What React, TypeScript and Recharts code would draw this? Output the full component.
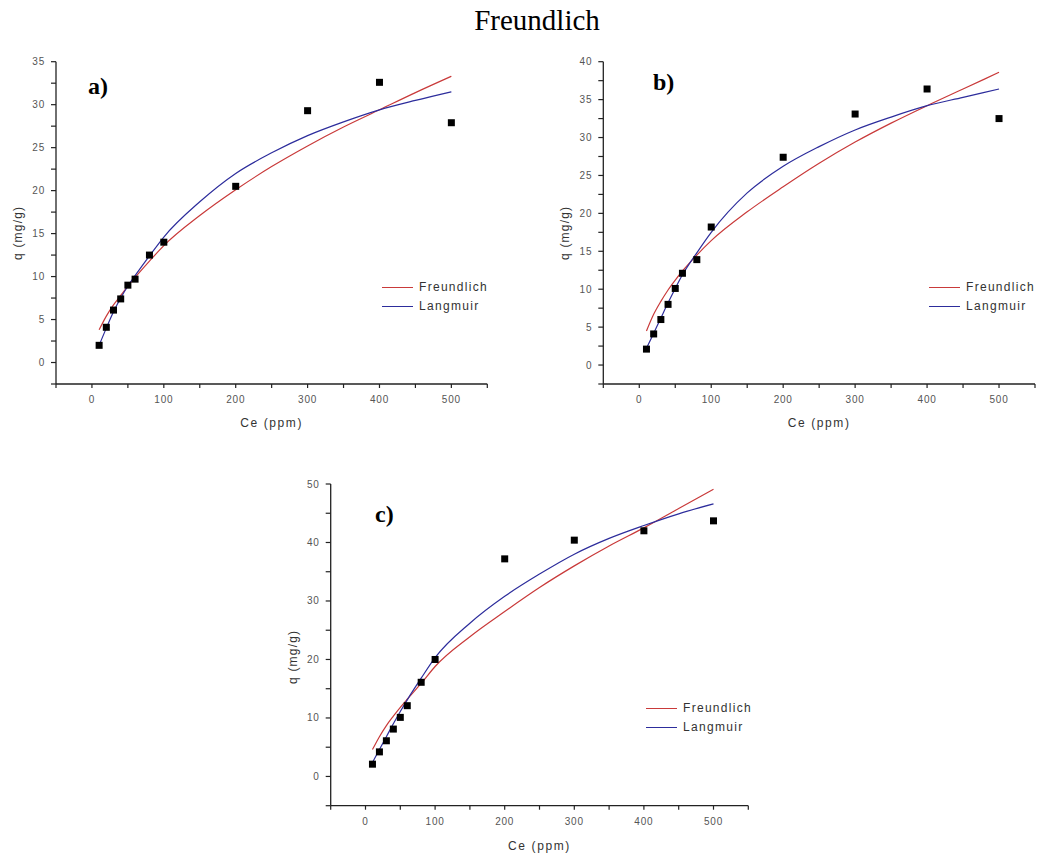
import React from 'react';
import { ComposedChart, Line, Scatter, XAxis, YAxis } from 'recharts';

// measured equilibrium concentrations (ppm)
const CE = [10, 20, 30, 40, 50, 60, 80, 100, 200, 300, 400, 500];
const FIT_CE = [10, 20, 30, 40, 50, 60, 80, 100, 150, 200, 250, 300, 350, 400, 450, 500];

const A_Q = [2.0, 4.1, 6.1, 7.4, 9.0, 9.7, 12.5, 14.0, 20.5, 29.3, 32.6, 27.9];
const A_FREUNDLICH = [3.8, 5.4, 6.7, 7.8, 8.9, 9.9, 11.8, 13.6, 17.1, 20.1, 22.8, 25.2, 27.4, 29.4, 31.4, 33.3];
const A_LANGMUIR = [2.0, 4.0, 5.9, 7.5, 8.9, 10.1, 12.4, 14.6, 18.7, 22.0, 24.4, 26.4, 28.0, 29.4, 30.5, 31.5];

const B_Q = [2.1, 4.1, 6.0, 8.0, 10.1, 12.1, 13.9, 18.2, 27.4, 33.1, 36.4, 32.5];
const B_FREUNDLICH = [4.5, 6.7, 8.4, 9.9, 11.2, 12.4, 14.5, 16.4, 20.2, 23.5, 26.6, 29.4, 31.9, 34.2, 36.4, 38.6];
const B_LANGMUIR = [2.2, 4.2, 6.2, 8.2, 10.1, 11.9, 14.8, 17.5, 22.7, 26.2, 28.8, 31.0, 32.7, 34.2, 35.3, 36.4];

const C_Q = [2.1, 4.2, 6.1, 8.1, 10.1, 12.1, 16.1, 20.0, 37.2, 40.4, 42.0, 43.7];
const C_FREUNDLICH = [4.6, 6.8, 8.7, 10.3, 11.8, 13.2, 15.9, 18.8, 23.9, 28.2, 32.3, 36.0, 39.4, 42.5, 45.8, 49.1];
const C_LANGMUIR = [2.4, 4.6, 6.8, 9.0, 11.1, 13.1, 16.8, 20.3, 26.2, 30.8, 34.6, 38.0, 40.7, 42.9, 44.9, 46.6];

const X_TICKS = [-50, 0, 50, 100, 150, 200, 250, 300, 350, 400, 450, 500, 550];
const A_Y_TICKS = [-2.5, 0, 2.5, 5, 7.5, 10, 12.5, 15, 17.5, 20, 22.5, 25, 27.5, 30, 32.5, 35];
const B_Y_TICKS = [-2.5, 0, 2.5, 5, 7.5, 10, 12.5, 15, 17.5, 20, 22.5, 25, 27.5, 30, 32.5, 35, 37.5, 40];
const C_Y_TICKS = [-5, 0, 5, 10, 15, 20, 25, 30, 35, 40, 45, 50];

const RED = '#c93a3a';
const BLUE = '#2d2d9c';
const SANS = 'Arial, "Liberation Sans", sans-serif';
const SERIF = '"Times New Roman", "Liberation Serif", serif';

const toPoints = (xs: number[], ys: number[]) => xs.map((x, i) => ({ x, q: ys[i] }));

const XTick = (props: any) => {
  const { x, y, payload } = props;
  const v = payload.value;
  if (v < 0 || v > 500 || v % 100 !== 0) return <g />;
  return (
    <text x={x} y={y} dy="0.71em" textAnchor="middle" fill="#555" fontSize={10} fontFamily={SANS} letterSpacing={0.8}>
      {v}
    </text>
  );
};

const YTick = (props: any) => {
  const { x, y, payload, step } = props;
  const v = payload.value;
  if (v < 0 || v % step !== 0) return <g />;
  return (
    <text x={x} y={y} dy="0.35em" textAnchor="end" fill="#555" fontSize={10} fontFamily={SANS} letterSpacing={0.8}>
      {v}
    </text>
  );
};

const XTitle = (props: any) => {
  const { viewBox, shift } = props;
  const cx = viewBox.x + viewBox.width / 2;
  const cy = viewBox.y + shift;
  return (
    <text x={cx} y={cy} dy="0.35em" textAnchor="middle" fill="#333" fontSize={12} fontFamily={SANS} letterSpacing={1.6}>
      Ce (ppm)
    </text>
  );
};

const YTitle = (props: any) => {
  const { viewBox, dx, dy } = props;
  const cx = viewBox.x + dx;
  const cy = viewBox.y + viewBox.height / 2 + dy;
  return (
    <text
      x={cx}
      y={cy}
      dy="0.35em"
      transform={`rotate(-90 ${cx} ${cy})`}
      textAnchor="middle"
      fill="#333"
      fontSize={12}
      fontFamily={SANS}
      letterSpacing={1.2}
    >
      q (mg/g)
    </text>
  );
};

const Square = (props: any) => (
  <rect x={props.cx - 3.5} y={props.cy - 3.5} width={7} height={7} fill="#000" />
);

interface PanelProps {
  tag: string;
  left: number;
  top: number;
  width: number;
  height: number;
  margin: { top: number; right: number; bottom: number; left: number };
  xAxisHeight: number;
  xTitleShift: number;
  yTitleDx: number;
  yTitleDy: number;
  yDomain: [number, number];
  yTicks: number[];
  yStep: number;
  q: number[];
  freundlich: number[];
  langmuir: number[];
  tagPos: { x: number; y: number };
  legendPos: { x: number; y: number };
}

const Panel: React.FC<PanelProps> = (p) => {
  const points = toPoints(CE, p.q);
  const fFit = toPoints(FIT_CE, p.freundlich);
  const lFit = toPoints(FIT_CE, p.langmuir);
  const legendRows = [
    { name: 'Freundlich', color: RED },
    { name: 'Langmuir', color: BLUE },
  ];
  return (
    <div style={{ position: 'absolute', left: p.left, top: p.top, width: p.width, height: p.height }}>
      <ComposedChart width={p.width} height={p.height} margin={p.margin}>
        <XAxis
          type="number"
          dataKey="x"
          domain={[-50, 550]}
          ticks={X_TICKS}
          interval={0}
          allowDataOverflow
          height={p.xAxisHeight}
          tickSize={4}
          tickMargin={8}
          axisLine={{ stroke: '#222', strokeWidth: 1.3 }}
          tickLine={{ stroke: '#222', strokeWidth: 1.2 }}
          tick={<XTick />}
          label={<XTitle shift={p.xTitleShift} />}
        />
        <YAxis
          type="number"
          dataKey="q"
          domain={p.yDomain}
          ticks={p.yTicks}
          interval={0}
          allowDataOverflow
          width={50}
          tickSize={5}
          tickMargin={6}
          axisLine={{ stroke: '#222', strokeWidth: 1.3 }}
          tickLine={{ stroke: '#222', strokeWidth: 1.2 }}
          tick={<YTick step={p.yStep} />}
          label={<YTitle dx={p.yTitleDx} dy={p.yTitleDy} />}
        />
        <Line data={fFit} dataKey="q" type="monotone" stroke={RED} strokeWidth={1.2} dot={false} isAnimationActive={false} />
        <Line data={lFit} dataKey="q" type="monotone" stroke={BLUE} strokeWidth={1.2} dot={false} isAnimationActive={false} />
        <Scatter data={points} dataKey="q" shape={<Square />} isAnimationActive={false} />
      </ComposedChart>

      <div
        style={{
          position: 'absolute',
          left: p.tagPos.x,
          top: p.tagPos.y - 13,
          fontFamily: SERIF,
          fontWeight: 'bold',
          fontSize: 24,
          lineHeight: '24px',
          color: '#000',
        }}
      >
        {p.tag}
      </div>

      {legendRows.map((row, i) => (
        <div
          key={row.name}
          style={{
            position: 'absolute',
            left: p.legendPos.x,
            top: p.legendPos.y + i * 19 - 9.5,
            height: 19,
            display: 'flex',
            alignItems: 'center',
            fontFamily: SANS,
            fontSize: 12,
            letterSpacing: 1.3,
            color: '#333',
            whiteSpace: 'nowrap',
          }}
        >
          <span style={{ display: 'inline-block', width: 31, borderTop: `1.3px solid ${row.color}`, marginRight: 6 }} />
          {row.name}
        </div>
      ))}
    </div>
  );
};

export default function App() {
  return (
    <div style={{ position: 'absolute', left: 0, top: 0, width: 1040, height: 855, background: '#fff' }}>
      <div
        style={{
          position: 'absolute',
          left: 387,
          top: 6,
          width: 300,
          textAlign: 'center',
          fontFamily: SERIF,
          fontSize: 29,
          lineHeight: '29px',
          color: '#000',
        }}
      >
        Freundlich
      </div>

      <Panel
        tag="a)"
        left={0}
        top={40}
        width={500}
        height={400}
        margin={{ top: 21.7, right: 12.7, bottom: 6, left: 6 }}
        xAxisHeight={50}
        xTitleShift={39}
        yTitleDx={12}
        yTitleDy={10}
        yDomain={[-2.5, 35]}
        yTicks={A_Y_TICKS}
        yStep={5}
        q={A_Q}
        freundlich={A_FREUNDLICH}
        langmuir={A_LANGMUIR}
        tagPos={{ x: 88, y: 46.7 }}
        legendPos={{ x: 382, y: 247 }}
      />

      <Panel
        tag="b)"
        left={520}
        top={40}
        width={520}
        height={400}
        margin={{ top: 21.7, right: 5, bottom: 6, left: 33.3 }}
        xAxisHeight={50}
        xTitleShift={39}
        yTitleDx={11.7}
        yTitleDy={10}
        yDomain={[-2.5, 40]}
        yTicks={B_Y_TICKS}
        yStep={5}
        q={B_Q}
        freundlich={B_FREUNDLICH}
        langmuir={B_LANGMUIR}
        tagPos={{ x: 133, y: 43.3 }}
        legendPos={{ x: 409, y: 247 }}
      />

      <Panel
        tag="c)"
        left={260}
        top={460}
        width={540}
        height={395}
        margin={{ top: 24, right: 51.7, bottom: 4.3, left: 20.7 }}
        xAxisHeight={45}
        xTitleShift={40.3}
        yTitleDx={12.6}
        yTitleDy={12}
        yDomain={[-5, 50]}
        yTicks={C_Y_TICKS}
        yStep={10}
        q={C_Q}
        freundlich={C_FREUNDLICH}
        langmuir={C_LANGMUIR}
        tagPos={{ x: 115, y: 55 }}
        legendPos={{ x: 386, y: 248 }}
      />
    </div>
  );
}
